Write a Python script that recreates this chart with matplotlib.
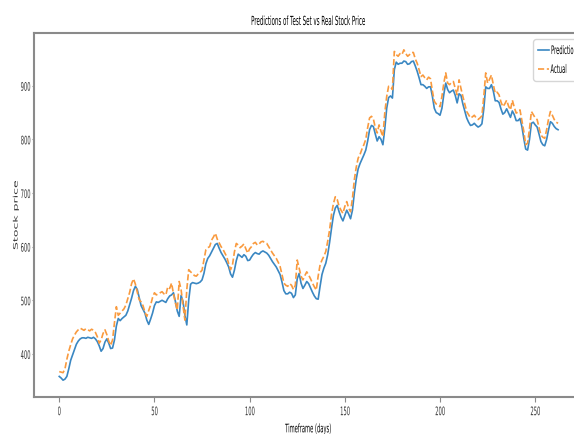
import numpy as np
import matplotlib
matplotlib.use("Agg")
import matplotlib.pyplot as plt
from matplotlib.patheffects import AbstractPathEffect
from matplotlib.transforms import Affine2D

# closing price per day of the test set
actual = [
    367, 366, 365, 372, 390, 405, 417, 428, 435, 441,
    445, 448, 446, 444, 447, 445, 443, 446, 444, 440,
    432, 420, 426, 438, 445, 436, 424, 416, 426, 458,
    488, 472, 476, 480, 484, 491, 503, 515, 531, 540,
    530, 515, 501, 497, 490, 478, 470, 481, 491, 505,
    514, 510, 512, 514, 516, 512, 510, 525, 522, 532,
    512, 495, 482, 535, 520, 490, 463, 520, 557, 553,
    550, 546, 545, 549, 552, 556, 575, 594, 598, 600,
    612, 618, 625, 614, 607, 600, 595, 588, 581, 568,
    557, 566, 590, 606, 603, 598, 601, 605, 596, 588,
    596, 600, 606, 608, 603, 605, 609, 610, 607, 606,
    600, 594, 588, 583, 578, 571, 563, 548, 532, 528,
    526, 531, 528, 520, 528, 575, 560, 545, 538, 546,
    553, 547, 540, 532, 525, 519, 545, 566, 575, 582,
    591, 610, 631, 660, 680, 693, 688, 675, 668, 662,
    675, 684, 672, 665, 690, 725, 748, 765, 772, 782,
    790, 800, 822, 840, 843, 838, 822, 812, 827, 815,
    805, 850, 880, 899, 898, 893, 964, 958, 955, 960,
    958, 967, 960, 955, 958, 962, 962, 950, 942, 930,
    917, 920, 915, 911, 916, 913, 890, 871, 866, 864,
    861, 880, 905, 924, 905, 902, 906, 908, 895, 883,
    911, 895, 880, 866, 852, 846, 840, 842, 845, 840,
    837, 840, 844, 880, 924, 905, 912, 920, 902, 886,
    888, 883, 870, 861, 866, 873, 862, 855, 873, 860,
    849, 851, 855, 835, 815, 790, 793, 820, 852, 846,
    840, 837, 822, 808, 804, 802, 818, 838, 852, 845,
    837, 832, 830,
]

# model output for the same days
predicted = [
    358, 355, 351, 353, 358, 372, 388, 398, 408, 418,
    424, 428, 430, 430, 429, 431, 430, 429, 431, 428,
    423, 415, 405, 410, 422, 428, 420, 410, 411, 426,
    452, 466, 462, 466, 469, 472, 480, 492, 504, 518,
    526, 520, 505, 490, 483, 476, 463, 455, 465, 476,
    490, 497, 496, 498, 500, 498, 496, 503, 508, 510,
    514, 498, 480, 470, 509, 498, 472, 454, 500, 530,
    533, 532, 531, 532, 534, 538, 550, 568, 578, 583,
    590, 597, 604, 606, 597, 589, 583, 577, 570, 562,
    549, 543, 556, 574, 586, 583, 580, 585, 582, 574,
    575, 581, 586, 589, 587, 586, 590, 592, 590, 588,
    584, 578, 572, 567, 562, 555, 548, 534, 518, 512,
    512, 515, 513, 505, 510, 540, 550, 532, 522, 528,
    535, 531, 523, 515, 508, 503, 502, 526, 548, 560,
    569, 585, 608, 634, 658, 672, 677, 665, 655, 648,
    658, 668, 661, 652, 668, 700, 726, 745, 755, 763,
    771, 780, 797, 818, 826, 824, 810, 797, 805, 800,
    790, 820, 858, 878, 881, 877, 930, 944, 940, 942,
    942, 946, 945, 940, 941, 945, 946, 937, 927, 915,
    902, 902, 899, 895, 898, 898, 880, 858, 850, 848,
    845, 858, 884, 905, 893, 887, 890, 892, 882, 868,
    885, 882, 866, 853, 840, 832, 826, 827, 830, 826,
    823, 825, 829, 857, 898, 895, 895, 902, 890, 872,
    872, 869, 857, 847, 850, 857, 849, 841, 853, 846,
    835, 835, 839, 824, 802, 782, 780, 800, 830, 832,
    827, 823, 810, 796, 790, 788, 800, 818, 833, 830,
    824, 820, 818,
]

days = np.arange(len(actual))


class Squeeze(AbstractPathEffect):
    """Draw text narrowed along its own x (sx) or y (sy) direction."""

    def __init__(self, sx=1.0, sy=1.0, anchor="center"):
        super().__init__()
        self.sx, self.sy, self.anchor = sx, sy, anchor

    def draw_path(self, renderer, gc, tpath, affine, rgbFace=None):
        ext = tpath.get_extents()
        if self.anchor == "left":
            x0 = ext.x0
        elif self.anchor == "right":
            x0 = ext.x1
        else:
            x0 = (ext.x0 + ext.x1) / 2
        y0 = (ext.y0 + ext.y1) / 2
        t = Affine2D().translate(-x0, -y0).scale(self.sx, self.sy).translate(x0, y0)
        renderer.draw_path(gc, tpath, t + affine, rgbFace)


SX = 0.44
W, H = 574, 434
fig = plt.figure(figsize=(W / 100, H / 100), dpi=100)
ax = fig.add_axes([34.3 / W, 37.3 / H, 548.7 / W, 363.4 / H])

ax.plot(days, predicted, color="#3a87c2", lw=1.2, label="Prediction")
ax.plot(days, actual, color="#f99a3e", lw=1.2, ls="--", label="Actual")

ax.set_title("Predictions of Test Set vs Real Stock Price", fontsize=9, pad=6,
             path_effects=[Squeeze(SX)])
ax.set_xlabel("Timeframe (days)", fontsize=8.5, labelpad=3,
              path_effects=[Squeeze(SX)])
ax.set_ylabel("Stock price", fontsize=9, va="center", color="#333333",
              path_effects=[Squeeze(1.0, 0.5)])
ax.yaxis.set_label_coords(-0.0337, 0.5)

ax.set_yticks([400, 500, 600, 700, 800, 900])
for s in ax.spines.values():
    s.set_color("#8a8a8a")
    s.set_linewidth(1.5)
ax.tick_params(axis="x", length=3.6, width=0.8, color="#8a8a8a", pad=2.5,
               labelsize=8.5, labelcolor="#333333")
ax.tick_params(axis="y", length=1.6, width=0.8, color="#8a8a8a", pad=1,
               labelsize=8.5, labelcolor="#333333")

leg = ax.legend(loc="upper left", bbox_to_anchor=(0.9094, 0.9835),
                borderaxespad=0, fontsize=8.5, handlelength=0.9,
                handletextpad=0.15, borderpad=0.4)

fig.canvas.draw()
for lab in ax.get_xticklabels():
    lab.set_path_effects([Squeeze(SX)])
for lab in ax.get_yticklabels():
    lab.set_path_effects([Squeeze(SX, anchor="right")])
for t in leg.get_texts():
    t.set_path_effects([Squeeze(SX, anchor="left")])

fig.savefig("out.png", dpi=100)
